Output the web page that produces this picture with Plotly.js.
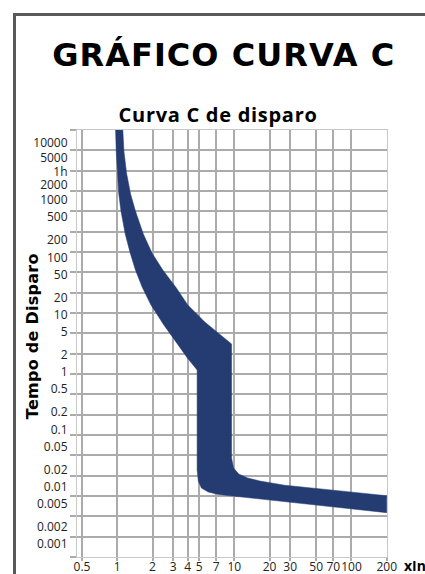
<!DOCTYPE html>
<html>
<head>
<meta charset="utf-8">
<script src="https://cdn.plot.ly/plotly-3.0.1.min.js"></script>
<style>html,body{margin:0;padding:0;background:#fff;overflow:hidden}</style>
</head>
<body>
<div id="chart" style="width:425px;height:574px"></div>
<script>
// ---- data (multiples of In, trip time in seconds) ----
const xTickVals = [0.5, 1, 2, 3, 4, 5, 7, 10, 20, 30, 50, 70, 100, 200];
const xTickText = ['0.5', '1', '2', '3', '4', '5', '7', '10', '20', '30', '50', '70', '100', '200'];
// where each y label sits on the time axis (the crowded top labels are spread out as in the source)
const yTickVals = [0.001, 0.002, 0.005, 0.01, 0.02, 0.05, 0.1, 0.2, 0.5, 1, 2, 5, 10, 20, 50, 100, 200, 500, 1000, 1830, 3080, 5400, 10000];
const yTickText = ['0.001', '0.002', '0.005', '0.01', '0.02', '0.05', '0.1', '0.2', '0.5', '1', '2', '5', '10', '20', '50', '100', '200', '500', '1000', '2000', '1h', '5000', '10000'];

// upper / right boundary of the tripping band (top to right end)
const upperEdgeX = [1.10, 1.115, 1.14, 1.20, 1.30, 1.43, 1.67, 1.98, 2.45, 3.20, 4.0, 5.59, 7.39, 9.47, 9.47, 9.85, 10.9, 13.0, 16.5, 26.9, 200];
const upperEdgeT = [30000, 16600, 7160, 2960, 1274, 643, 255, 119, 60, 29.2, 14.8, 7.45, 4.6, 3.08, 0.0316, 0.0212, 0.0166, 0.0142, 0.01256, 0.0106, 0.00696];
// lower / left boundary (right end back to top)
const lowerEdgeX = [200, 7.33, 5.98, 5.23, 4.92, 4.81, 4.81, 3.97, 3.33, 2.50, 1.94, 1.63, 1.43, 1.29, 1.17, 1.076, 1.03, 1.0, 0.98, 0.967, 0.96];
const lowerEdgeT = [0.00352, 0.0073, 0.00807, 0.00949, 0.01256, 0.0196, 1.08, 1.76, 2.96, 6.6, 14.8, 30.4, 60, 119, 255, 643, 1274, 2960, 7160, 16600, 30000];

// ---- layout helpers ----
const W = 425, H = 574;
const M = {l: 77, r: 38, t: 130, b: 17};
const pw = W - M.l - M.r, ph = H - M.t - M.b;
const px = v => (v - M.l) / pw;          // page pixel -> paper x
const py = v => (H - M.b - v) / ph;      // page pixel -> paper y

const yRange = [-3.2268, 4.221];
const gridColor = '#ababab';
const tickFont = {family: 'Open Sans', size: 12, color: '#222'};

const band = {
  x: upperEdgeX.concat(lowerEdgeX),
  y: upperEdgeT.concat(lowerEdgeT),
  type: 'scatter',
  mode: 'lines',
  fill: 'toself',
  fillcolor: '#253c73',
  line: {color: '#253c73', width: 0.5},
  hoverinfo: 'skip',
  showlegend: false
};

const layout = {
  width: W, height: H,
  margin: M,
  paper_bgcolor: '#fff',
  plot_bgcolor: '#fff',
  showlegend: false,
  font: {family: 'Open Sans', color: '#000'},
  xaxis: {
    type: 'log',
    range: [-0.3437, 2.3035],
    tickmode: 'array', tickvals: xTickVals, ticktext: xTickText,
    tickangle: 0,
    tickfont: tickFont,
    showgrid: true, gridcolor: gridColor, gridwidth: 2,
    ticks: 'outside', ticklen: 3, tickwidth: 2, tickcolor: gridColor,
    ticklabelstandoff: -4,
    showline: true, mirror: true, linecolor: '#c8c8c8', linewidth: 1,
    zeroline: false, fixedrange: true
  },
  yaxis: {
    type: 'log',
    range: yRange,
    tickmode: 'array', tickvals: yTickVals, ticktext: yTickText,
    tickfont: tickFont,
    showgrid: false,
    ticks: '', ticklabelstandoff: 6,
    minor: {
      tickmode: 'linear', tick0: yRange[0], dtick: (yRange[1] - yRange[0]) / 21,
      showgrid: true, gridcolor: gridColor, gridwidth: 2,
      ticks: 'outside', ticklen: 6, tickwidth: 2, tickcolor: gridColor
    },
    showline: true, mirror: true, linecolor: '#c8c8c8', linewidth: 1,
    zeroline: false, fixedrange: true
  },
  shapes: [{
    type: 'rect', xref: 'paper', yref: 'paper',
    x0: px(14.5), x1: px(460), y0: py(620), y1: py(14.5),
    line: {color: '#595959', width: 3}, fillcolor: 'rgba(0,0,0,0)'
  }],
  annotations: [
    {text: '<b>GRÁFICO CURVA C</b>', xref: 'paper', yref: 'paper', x: px(223.5), y: py(55), xanchor: 'center', yanchor: 'middle', showarrow: false, font: {family: 'DejaVu Sans', size: 32, color: '#000'}},
    {text: '<b>Curva C de disparo</b>', xref: 'paper', yref: 'paper', x: px(217.5), y: py(114.5), xanchor: 'center', yanchor: 'middle', showarrow: false, font: {family: 'Open Sans', size: 20, color: '#000'}},
    {text: '<b>Tempo de Disparo</b>', xref: 'paper', yref: 'paper', x: px(32), y: py(336), textangle: -90, xanchor: 'center', yanchor: 'middle', showarrow: false, font: {family: 'DejaVu Sans', size: 16, color: '#000'}},
    {text: '<b>xIn</b>', xref: 'paper', yref: 'paper', x: px(402), y: py(565), xanchor: 'left', yanchor: 'middle', showarrow: false, font: {family: 'Open Sans', size: 14, color: '#000'}}
  ]
};

const targetWidths = {'GRÁFICO CURVA C': 343, 'Curva C de disparo': 199, 'Tempo de Disparo': 166};

Plotly.newPlot('chart', [band], layout, {displayModeBar: false, staticPlot: true}).then(gd => {
  gd.querySelectorAll('text.annotation-text').forEach(t => {
    const s = t.textContent;
    if (targetWidths[s]) {
      const len = t.getComputedTextLength();
      const sp = Math.min(1.5, (targetWidths[s] - len) / s.length);
      if (sp > 0) t.style.letterSpacing = sp.toFixed(2) + 'px';
    }
  });
});
</script>
</body>
</html>
